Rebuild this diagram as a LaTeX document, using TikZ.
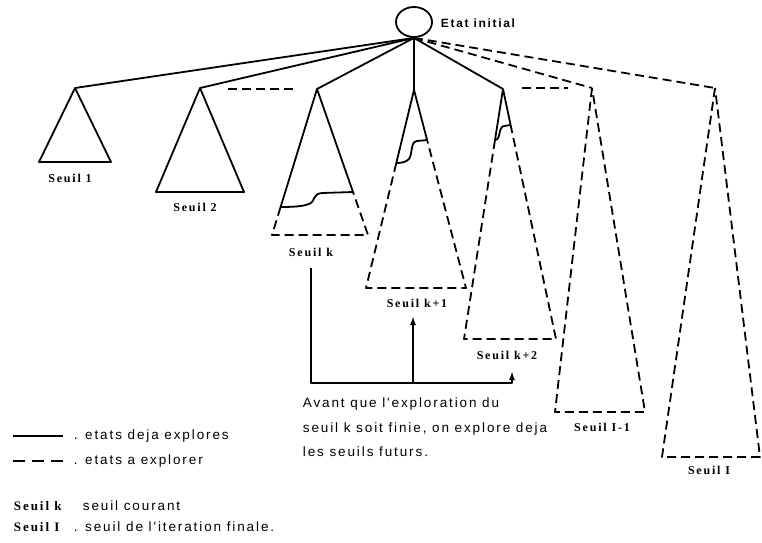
\documentclass[tikz,border=0pt]{standalone}
\usepackage{fontspec}
\setmainfont{Liberation Serif}
\newfontfamily\lblfont{Liberation Serif}[LetterSpace=15]
\newfontfamily\txtfont{Liberation Sans}[LetterSpace=14]
\usetikzlibrary{arrows.meta,shapes.geometric}

\begin{document}
\begin{tikzpicture}[x=1pt,y=-1pt,line width=1.8pt,line join=round,
        fut/.style={dash pattern=on 9pt off 5pt},
        lbl/.style={font=\lblfont\bfseries\fontsize{12}{14}\selectfont,inner sep=0pt},
        txt/.style={font=\txtfont\fontsize{13.5}{24.5}\selectfont,inner sep=0pt,anchor=west},
        tip/.style={-{Latex[length=9pt,width=6pt]}}]
        \useasboundingbox (0,0) rectangle (762,542);
        % racine
        \node[draw,ellipse,minimum width=36pt,minimum height=30pt,inner sep=0pt] (init) at (414,22) {};
        \node[anchor=west,inner sep=0pt,font=\txtfont\bfseries\fontsize{12}{14}\selectfont] (initlbl) at (440,23) {Etat initial};
        % sommets des sous-arbres
        \coordinate (a1) at (75,88);
        \coordinate (a2) at (200,88);
        \coordinate (ak) at (317,89);
        \coordinate (ak1) at (414,90);
        \coordinate (ak2) at (503,89);
        \coordinate (al1) at (592,88);
        \coordinate (al) at (715,88);
        \foreach \t in {a1,a2,ak,ak1,ak2}
            \draw (init.south) -- (\t);
        \foreach \t in {al1,al}
            \draw[fut] (init.south) -- (\t);
        \draw[fut] (228,89) -- (295,89);
        \draw[fut] (522,88) -- (568,88);
        % seuils deja finis
        \draw (a1) -- (39,162) -- (111,162) -- cycle;
        \draw (a2) -- (156,192) -- (244,192) -- cycle;
        % seuil k
        \coordinate (kl) at (280.6,207);
        \coordinate (kr) at (353,192);
        \draw (kl) -- (ak) -- (kr);
        \draw[fut] (kl) -- (272,235) -- (368,235) -- (kr);
        \draw (kl) .. controls (296,207) and (304,206) .. (309,204) .. controls (316,201) and (312,194) .. (322,193) -- (kr);
        % seuil k+1
        \coordinate (k1l) at (396.3,163);
        \coordinate (k1r) at (427.1,140);
        \draw (k1l) -- (ak1) -- (k1r);
        \draw[fut] (k1l) -- (366,288) -- (466,288) -- (k1r);
        \draw (k1l) .. controls (402,163) and (406,162) .. (409,159) .. controls (413,153) and (410,142) .. (417,141) -- (k1r);
        % seuil k+2
        \coordinate (k2l) at (495,140);
        \coordinate (k2r) at (510.6,125);
        \draw (k2l) -- (ak2) -- (k2r);
        \draw[fut] (k2l) -- (464,339) -- (556,339) -- (k2r);
        \draw (k2l) .. controls (501,140) and (498,127) .. (504,126) -- (k2r);
        % seuils futurs
        \draw[fut] (al1) -- (555,412) -- (645,412) -- cycle;
        \draw[fut] (al) -- (662,457) -- (760,457) -- cycle;
        % noms des seuils
        \node[lbl] (l1) at (70,178) {Seuil 1};
        \node[lbl] (l2) at (195,207) {Seuil 2};
        \node[lbl] (lk) at (311,252) {Seuil k};
        \node[lbl] (lk1) at (417,303) {Seuil k+1};
        \node[lbl] (lk2) at (507,355) {Seuil k+2};
        \node[lbl] (ll1) at (602,427) {Seuil I-1};
        \node[lbl] (ll) at (709,470) {Seuil I};
        % fleches
        \coordinate (tipk2) at (512,371);
        \coordinate (mid) at (413,383);
        \coordinate (midtop) at (413,316);
        \draw[tip] ([yshift=-11pt]lk.south) |- ([yshift=-12pt]tipk2) -- (tipk2);
        \draw[tip] (mid) -- (midtop);
        \node[txt,anchor=north west,align=left] (expl) at (302,397) {Avant que l'exploration du\\seuil k soit finie, on explore deja\\les seuils futurs.};
        % legende
        \draw (13,436) -- (63,436);
        \draw[dash pattern=on 12pt off 7pt] (13,461) -- (63,461);
        \node[txt] (leg1) at (73,436) {. etats deja explores};
        \node[txt] (leg2) at (73,461) {. etats a explorer};
        \node[lbl,anchor=west,font=\lblfont\bfseries\fontsize{13}{15}\selectfont] (legk) at (13,506) {Seuil k};
        \node[txt] (leg3) at (82,506) {seuil courant};
        \node[lbl,anchor=west,font=\lblfont\bfseries\fontsize{13}{15}\selectfont] (legl) at (13,527) {Seuil I};
        \node[txt] (leg4) at (73,527) {. seuil de l'iteration finale.};
\end{tikzpicture}
\end{document}
